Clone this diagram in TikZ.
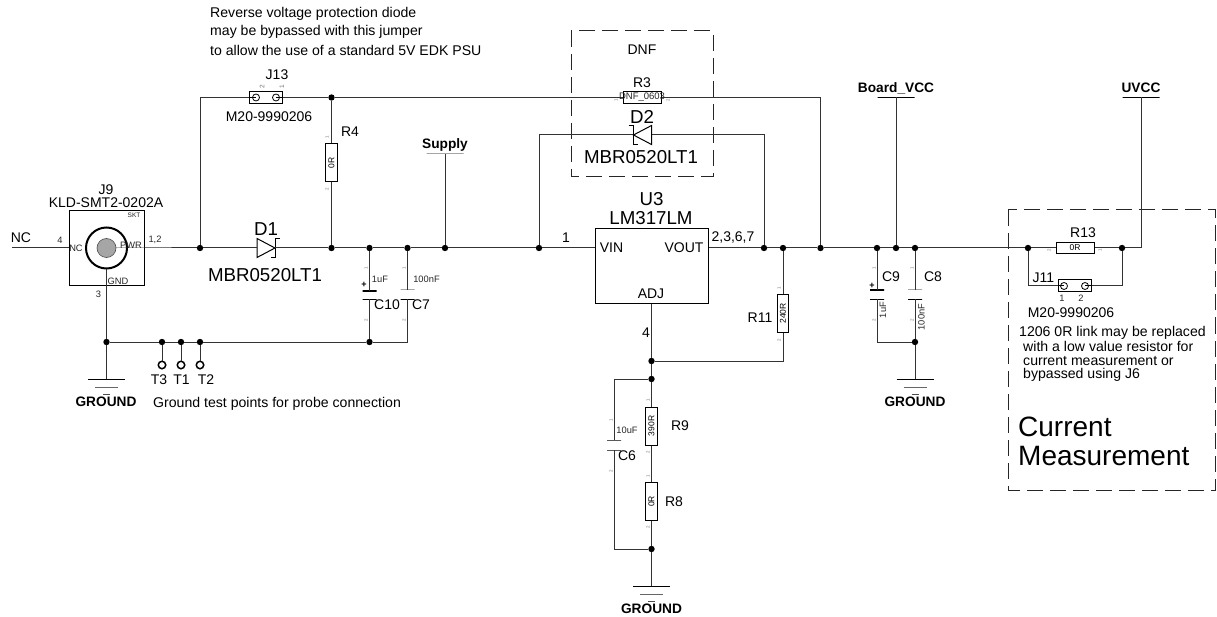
\documentclass[tikz,border=0pt]{standalone}
\usepackage{fontspec}
\setmainfont{Liberation Sans}
\newcommand{\fs}[1]{\fontsize{#1}{#1}\selectfont}
\tikzset{
  wire/.style={line width=1pt,black!80},
  junc/.style={circle,fill=black,inner sep=0pt,minimum size=6.4pt},
  lab/.style={inner sep=0pt,font=\fs{14}},
  huge/.style={inner sep=0pt,font=\fs{18.7}},
  note/.style={inner sep=0pt,anchor=west,font=\fs{14.1}},
  net/.style={inner sep=0pt,font=\bfseries\fs{13.7}},
  val/.style={inner sep=0pt,font=\fs{9.3},black!85},
  pin/.style={inner sep=0pt,font=\fs{4.5},black!55,rotate=90},
  partbox/.style={draw=black,line width=1pt,fill=white,inner sep=0pt,rectangle},
  res/.style={partbox,minimum width=38pt,minimum height=11.5pt,font=\fs{8.5}},
  resv/.style={res,rotate=90},
  jumper/.style={partbox,minimum width=33pt,minimum height=11.5pt},
  bar/.style={draw=black,line width=1pt,inner sep=0pt,outer sep=0pt,minimum width=37pt,minimum height=0pt},
  plate/.style={bar,minimum width=14pt},
  plateplus/.style={plate,line width=1.8pt},
  dbox/.style={inner sep=0pt,minimum width=18.5pt,minimum height=18.5pt},
  tp/.style={circle,draw=black,line width=1.5pt,inner sep=0pt,minimum size=7.5pt},
  fence/.style={line width=1pt,black!85,dash pattern=on 16pt off 7pt},
  schottky/.pic={
    \draw[line width=1pt,black] (-9,-9.5) -- (9,0) -- (-9,9.5) -- cycle;
    \draw[line width=1pt,black] (14,-9.5) -- (9,-9.5) -- (9,9.5) -- (5,9.5);
  },
  gnd/.pic={
    \draw[line width=1pt,black] (-18.5,0) -- (18.5,0);
    \draw[line width=1pt,black!60] (-11.5,8) -- (11.5,8);
    \draw[line width=1pt,black!70] (-3.5,15) -- (3.5,15);
  },
}
\begin{document}
\begin{tikzpicture}[x=1pt,y=-1pt]
  \useasboundingbox (0,0) rectangle (1217,617);
  % dashed fences
  \draw[fence] (571,31) rectangle (713,177);
  \draw[fence] (1008,210) rectangle (1215.5,490);
  % junctions
  \foreach \n/\x/\y in {j1/200/248,j2/331.5/248,j3/369.5/248,j4/407.5/248,j5/445/248,j6/539/248,
    j7/764/248,j8/783/248,j9/820.5/248,j10/877/248,j11/896/248,j12/915/248,j13/1028/248,j14/1122/248,
    j15/331.5/97.5,j16/106.5/342,j17/162/342,j18/181/342,j19/200/342,j20/369.5/342,
    j21/651.5/361,j22/651.5/379,j23/651.5/549,j24/915/342}
    \node[junc] (\n) at (\x,\y) {};
  % parts
  \node[partbox,minimum width=75pt,minimum height=75pt] (J9) at (106.5,248) {};
  \node[circle,draw=black,line width=2pt,inner sep=0pt,minimum size=41pt] (J9ring) at (J9) {};
  \node[circle,draw=black!70,fill=black!35,line width=.6pt,inner sep=0pt,minimum size=19pt] (J9core) at (J9) {};
  \node[dbox] (D1) at (266,248) {};
  \node[dbox] (D2) at (642.5,135) {};
  \pic at (D1) {schottky};
  \pic[xscale=-1] at (D2) {schottky};
  \node[jumper] (J13) at (265.5,97.5) {};
  \node[jumper] (J11) at (1075,285.5) {};
  \node[res] (R3) at (642,97.5) {};
  \node[res] (R13) at (1075,248) {0R};
  \node[resv] (R4) at (331.5,163) {0R};
  \node[resv] (R11) at (783,313.5) {240R};
  \node[resv] (R9) at (651.5,426) {390R};
  \node[resv] (R8) at (651.5,501.5) {0R};
  \node[partbox,minimum width=113pt,minimum height=75pt] (U3) at (651.5,266.5) {};
  \node[bar] (Supply) at (445,154) {};
  \node[bar] (BoardVCC) at (896,97.5) {};
  \node[bar] (UVCC) at (1141,97.5) {};
  \node[plateplus] (C10a) at (369.5,291) {};
  \node[plate] (C10b) at (369.5,299.5) {};
  \node[plate] (C7a) at (407.5,290) {};
  \node[plate] (C7b) at (407.5,299.5) {};
  \node[plate] (C6a) at (614,440) {};
  \node[plate] (C6b) at (614,450) {};
  \node[plateplus] (C9a) at (877,290) {};
  \node[plate] (C9b) at (877,299.5) {};
  \node[plate] (C8a) at (915,290) {};
  \node[plate] (C8b) at (915,299.5) {};
  \node[tp] (T3) at (162,365) {};
  \node[tp] (T1) at (181,365) {};
  \node[tp] (T2) at (200,365) {};
  \coordinate (NCend) at (12,248);
  \coordinate (gnd1) at (106.5,379);
  \coordinate (gnd2) at (651.5,586);
  \coordinate (gnd3) at (915,379);
  \pic at (gnd1) {gnd};
  \pic at (gnd2) {gnd};
  \pic at (gnd3) {gnd};
  % jumper posts
  \foreach \n/\x/\y in {a/256/97.5,b/276/97.5,c/1064/286,d/1085/286}
    \node[circle,draw=black,line width=.8pt,inner sep=0pt,minimum size=7pt] (post\n) at (\x,\y) {};
  \draw[line width=.8pt] (J13.west) -- (posta.center);
  \draw[line width=.8pt] (J13.east) -- (postb.center);
  \draw[line width=.8pt] (J11.west) -- (postc.center |- J11.west);
  \draw[line width=.8pt] (J11.east) -- (postd.center |- J11.east);
  % wires
  \draw[wire] (NCend) -- (J9.west);
  \draw[wire] (J9core) -- (J9.east) -- (j1) -- (D1) -- (j2) -- (j3) -- (j4) -- (j5) -- (j6) -- (j6 -| U3.west);
  \draw[wire] (j6 -| U3.east) -- (j7) -- (j8) -- (j9) -- (j10) -- (j11) -- (j12) -- (j13) -- (R13) -- (j14);
  \draw[wire] (J9ring) -- (J9.south) -- (j16) -- (gnd1);
  \draw[wire] (j16) -- (j17) -- (j18) -- (j19) -- (j20);
  \draw[wire] (j17) -- (T3);
  \draw[wire] (j18) -- (T1);
  \draw[wire] (j19) -- (T2);
  \draw[wire] (j1) |- (J13);
  \draw[wire] (J13) -- (j15) -- (R3);
  \draw[wire] (R3) -| (j9);
  \draw[wire] (j15) -- (R4) -- (j2);
  \draw[wire] (j6) |- (D2);
  \draw[wire] (D2) -| (j7);
  \draw[wire] (Supply) -- (j5);
  \draw[wire] (BoardVCC) -- (j11);
  \draw[wire] (j14) -| (UVCC);
  \draw[wire] (j13) |- (J11);
  \draw[wire] (J11) -| (j14);
  \draw[wire] (j3) -- (C10a);
  \draw[wire] (C10b) -- (j20);
  \draw[wire] (j4) -- (C7a);
  \draw[wire] (j20) -| (C7b);
  \draw[wire] (j10) -- (C9a);
  \draw[wire] (C9b) |- (j24);
  \draw[wire] (j12) -- (C8a);
  \draw[wire] (C8b) -- (j24) -- (gnd3);
  \draw[wire] (U3.south) -- (j21) -- (j22) -- (R9) -- (R8) -- (j23) -- (gnd2);
  \draw[wire] (j21) -| (R11);
  \draw[wire] (R11) -- (j8);
  \draw[wire] (j22) -| (C6a);
  \draw[wire] (C6b) |- (j23);
  % labels
  \node[note] (topa) at (210,13.5) {Reverse voltage protection diode};
  \node[note] (topb) at (210,31.5) {may be bypassed with this jumper};
  \node[note] (topc) at (210,50) {to allow the use of a standard 5V EDK PSU};
  \node[note] (tpnote) at (153,403.5) {Ground test points for probe connection};
  \node[lab] (NClab) at (21,238) {NC};
  \node[lab] (J9lab) at (106,190) {J9};
  \node[lab] (J9part) at (106,203) {KLD-SMT2-0202A};
  \node[val] (pin4) at (60,240) {4};
  \node[val] (pin12) at (155,240) {1,2};
  \node[val] (pin3) at (98.5,294) {3};
  \node[val] (J9nc) at (76,248) {NC};
  \node[val] (J9pwr) at (131,245) {PWR};
  \node[val] (J9gnd) at (118,281) {GND};
  \node[inner sep=0pt,font=\fs{6.5},black!85] (J9skt) at (134,215) {SKT};
  \node[huge] (D1lab) at (266,229) {D1};
  \node[huge] (D1part) at (265,275) {MBR0520LT1};
  \node[lab] (J13lab) at (277,75) {J13};
  \node[lab] (J13part) at (269,116.5) {M20-9990206};
  \node[lab] (R4lab) at (350,131.5) {R4};
  \node[net] (Supplylab) at (445,145) {Supply};
  \node[net] (BoardVCClab) at (896,88) {Board\_VCC};
  \node[net] (UVCClab) at (1141,88) {UVCC};
  \node[val] (C10val) at (380,279.5) {1uF};
  \node[val] (C7val) at (426.5,279.5) {100nF};
  \node[lab] (C10lab) at (387,305) {C10};
  \node[lab] (C7lab) at (421,305) {C7};
  \node[inner sep=0pt,font=\bfseries\fs{9}] (C10plus) at (364,285) {+};
  \node[inner sep=0pt,font=\bfseries\fs{9}] (C9plus) at (872,285.5) {+};
  \node[lab] (DNFlab) at (642,50) {DNF};
  \node[lab] (R3lab) at (642,83) {R3};
  \node[inner sep=0pt,font=\fs{9.5},black!85] (R3val) at (642,97.5) {DNF\_0603};
  \node[huge] (D2lab) at (642,116.5) {D2};
  \node[huge] (D2part) at (641,157) {MBR0520LT1};
  \node[huge] (U3lab) at (651.5,199) {U3};
  \node[huge] (U3part) at (651,218) {LM317LM};
  \node[lab] (VIN) at (611.5,248) {VIN};
  \node[lab] (VOUT) at (684,248) {VOUT};
  \node[lab] (ADJ) at (651,294) {ADJ};
  \node[lab] (pin1) at (566,238) {1};
  \node[lab] (pin2367) at (733,238) {2,3,6,7};
  \node[lab] (pin4b) at (646,333) {4};
  \node[lab] (R11lab) at (760,318) {R11};
  \node[lab] (R9lab) at (680,426) {R9};
  \node[lab] (R8lab) at (674,502) {R8};
  \node[lab] (C6lab) at (627,456) {C6};
  \node[val] (C6val) at (627,430) {10uF};
  \node[lab] (C9lab) at (891,277) {C9};
  \node[lab] (C8lab) at (933,277) {C8};
  \node[val,rotate=90] (C9val) at (883,310) {1uF};
  \node[val,rotate=90] (C8val) at (921.5,317) {100nF};
  \node[lab] (R13lab) at (1083,233) {R13};
  \node[lab] (J11lab) at (1043.5,278) {J11};
  \node[val] (J11a) at (1062,298.5) {1};
  \node[val] (J11b) at (1081,298.5) {2};
  \node[lab] (J11part) at (1071,313) {M20-9990206};
  \node[note] (linka) at (1019,333) {1206 0R link may be replaced};
  \node[note] (linkb) at (1023,346.5) {with a low value resistor for};
  \node[note] (linkc) at (1023,361) {current measurement or};
  \node[note] (linkd) at (1023,374.5) {bypassed using J6};
  \node[note,font=\fs{28}] (cura) at (1018,427) {Current};
  \node[note,font=\fs{28}] (curb) at (1018,456) {Measurement};
  \node[net] (gndlaba) at (106,402) {GROUND};
  \node[net] (gndlabb) at (651.5,609) {GROUND};
  \node[net] (gndlabc) at (915,402) {GROUND};
  \node[lab] (T3lab) at (159,380) {T3};
  \node[lab] (T1lab) at (181.5,380) {T1};
  \node[lab] (T2lab) at (206,380) {T2};
  % pin numbers
  \foreach \n/\x/\y/\t in {a/327/137/1,b/327/189/2,c/616/100/1,d/668/100/2,e/779/288/1,f/779/340/2,
    g/648/400/1,h/648/452/2,i/648/476/1,k/648/527/2,l/366/268/1,m/366/320/2,o/404/268/1,p/404/320/2,
    q/611/420/1,r/611/471/2,s/874/268/1,t/874/320/2,u/912/268/1,v/912/320/2,w/1049/250/2,x/1100/250/1}
    \node[pin] (pin\n) at (\x,\y) {\t};
  \node[pin,font=\fs{6.5}] (pinJa) at (262,87) {2};
  \node[pin,font=\fs{6.5}] (pinJb) at (282,87) {1};
\end{tikzpicture}
\end{document}
